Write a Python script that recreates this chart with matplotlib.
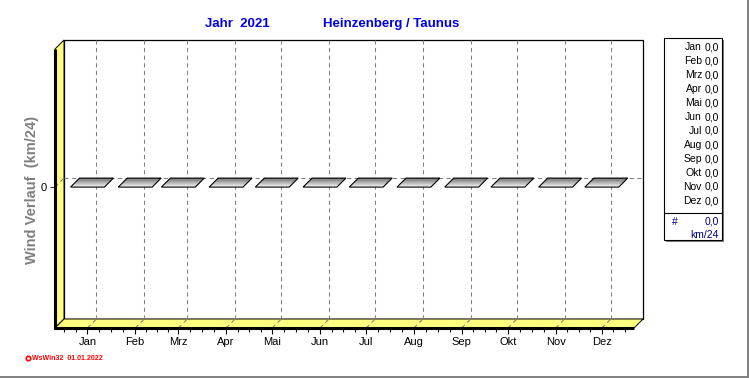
#!/usr/bin/env python3
import datetime
import numpy as np
import matplotlib
matplotlib.use('Agg')
import matplotlib.pyplot as plt
from matplotlib.patches import Polygon, Rectangle
from matplotlib.lines import Line2D
from matplotlib.colors import LinearSegmentedColormap

plt.rcParams['font.family'] = ['Liberation Sans', 'DejaVu Sans']
plt.rcParams['lines.scale_dashes'] = False

YEAR = 2021
MONTHS = ['Jan', 'Feb', 'Mrz', 'Apr', 'Mai', 'Jun', 'Jul', 'Aug', 'Sep', 'Okt', 'Nov', 'Dez']
WIND = [0.0, 0.0, 0.0, 0.0, 0.0, 0.0, 0.0, 0.0, 0.0, 0.0, 0.0, 0.0]
TOTAL = 0.0
YTICKS = [0]
TITLE_LEFT = 'Jahr  2021'
TITLE_RIGHT = 'Heinzenberg / Taunus'
YLABEL = 'Wind Verlauf  (km/24)'
UNIT = 'km/24'
FOOTER = 'WsWin32  01.01.2022'

# ticks sit on the 15th of each month (0-based day of year)
DAYS = [datetime.date(YEAR, m, 15).timetuple().tm_yday - 1 for m in range(1, 13)]


def de(v):
    return f'{v:.1f}'.replace('.', ',')


W, H = 750, 378
fig = plt.figure(figsize=(7.5, 3.78), dpi=100)


def fx(px):
    return px / W


def fy(py):
    return 1 - py / H


ax = fig.add_axes([fx(55), fy(328), (634 - 55) / W, (328 - 49) / H])
ax.set_xlim(-7.1, 368.9)
ax.set_ylim(-1.0, 0.98)
x0, x1 = ax.get_xlim()
y0, y1 = ax.get_ylim()
for s in ax.spines.values():
    s.set_visible(False)
ax.patch.set_visible(False)

# depth of the pseudo-3D box, converted to data units
DEPTH = 9
bb = ax.get_window_extent()
ddx = DEPTH * (x1 - x0) / bb.width
ddy = DEPTH * (y1 - y0) / bb.height

yellow = '#ffff80'
ax.add_patch(Rectangle((x0 + ddx, y0 + ddy), x1 - x0, y1 - y0, fc='white', ec='black',
                       lw=0.9, clip_on=False, zorder=1))
ax.add_patch(Polygon([(x0, y0), (x0, y1), (x0 + ddx, y1 + ddy), (x0 + ddx, y0 + ddy)],
                     closed=True, fc=yellow, ec='black', lw=0.7, clip_on=False, zorder=2))
ax.add_patch(Polygon([(x0, y0), (x1, y0), (x1 + ddx, y0 + ddy), (x0 + ddx, y0 + ddy)],
                     closed=True, fc=yellow, ec='black', lw=0.7, clip_on=False, zorder=2))
ax.plot([x0, x0, x1], [y1, y0, y0], color='black', lw=2.2, clip_on=False, zorder=8,
        solid_joinstyle='miter', solid_capstyle='butt')

grid = dict(color='#808080', lw=0.75, ls=(0, (3, 2.5)), clip_on=False, zorder=3)
for d in DAYS:
    ax.plot([d + ddx, d + ddx], [y0 + ddy, y1 + ddy], **grid)
    ax.plot([d, d + ddx], [y0, y0 + ddy], **grid)
for v in YTICKS:
    ax.plot([x0 + ddx, x1 + ddx], [v + ddy, v + ddy], **grid)
    ax.plot([x0, x0 + ddx], [v, v + ddy], **grid)

# flat bars (zero values) with a grey gradient top face
cmap = LinearSegmentedColormap.from_list('bar', ['#f6f6f6', '#6e6e6e'])
grad = np.linspace(0, 1, 32).reshape(-1, 1)
half = 11
for d, v in zip(DAYS, WIND):
    verts = [(d - half, v), (d + half, v), (d + half + ddx, v + ddy), (d - half + ddx, v + ddy)]
    poly = Polygon(verts, closed=True, fc='none', ec='black', lw=0.8, zorder=6)
    ax.add_patch(poly)
    im = ax.imshow(grad, extent=(d - half, d + half + ddx, v, v + ddy), cmap=cmap,
                   origin='lower', aspect='auto', interpolation='bilinear', zorder=5)
    im.set_clip_path(poly)
ax.set_xlim(x0, x1)
ax.set_ylim(y0, y1)
ax.set_aspect('auto')

# ticks
ax.set_xticks(DAYS)
ax.set_xticklabels(MONTHS)
minor = []
step = (DAYS[1] - DAYS[0]) / 4
minor += [DAYS[0] - step * k for k in (1, 2)]
for a, b in zip(DAYS[:-1], DAYS[1:]):
    minor += [a + (b - a) * k / 4 for k in (1, 2, 3)]
step = (DAYS[-1] - DAYS[-2]) / 4
minor += [DAYS[-1] + step * k for k in (1, 2, 3) if DAYS[-1] + step * k <= x1]
ax.set_xticks(minor, minor=True)
ax.tick_params(axis='x', which='major', length=4.3, width=0.8, pad=2, labelsize=8)
ax.tick_params(axis='x', which='minor', length=3.0, width=0.8)
ax.set_yticks(YTICKS)
ax.set_yticklabels([str(v) for v in YTICKS])
ax.tick_params(axis='y', length=3.6, width=0.8, pad=2, labelsize=8, color='#404040')

fig.text(fx(237), fy(24), TITLE_LEFT, ha='center', va='center', color='#0000e6',
         weight='bold', fontsize=9.5)
fig.text(fx(391), fy(24), TITLE_RIGHT, ha='center', va='center', color='#0000e6',
         weight='bold', fontsize=9.5)
fig.text(fx(32), fy(190), YLABEL, rotation=90, ha='center', va='center', color='#808080',
         weight='bold', fontsize=10.5)

# legend box on the right
fig.add_artist(Rectangle((fx(666), fy(242)), (722 - 664) / W, (240 - 38) / H,
                         transform=fig.transFigure, fc='#808080', ec='none', zorder=1))
fig.add_artist(Rectangle((fx(664), fy(240)), (722 - 664) / W, (240 - 38) / H,
                         transform=fig.transFigure, fc='white', ec='black', lw=0.8, zorder=2))
for i, (m, v) in enumerate(zip(MONTHS, WIND)):
    yy = fy(47 + 14 * i)
    fig.text(fx(702), yy, m, ha='right', va='center', fontsize=7.5, zorder=3)
    fig.text(fx(719), yy, de(v), ha='right', va='center', fontsize=7.5, zorder=3)
fig.add_artist(Line2D([fx(664), fx(722)], [fy(213), fy(213)], color='black', lw=0.8, zorder=3))
fig.text(fx(675), fy(222), '#', ha='center', va='center', fontsize=7.5, color='#000080', zorder=3)
fig.text(fx(719), fy(222), de(TOTAL), ha='right', va='center', fontsize=7.5, color='#000080', zorder=3)
fig.text(fx(719), fy(235), UNIT, ha='right', va='center', fontsize=7.5, color='#000080', zorder=3)

# footer
fig.add_artist(Line2D([fx(28)], [fy(358)], marker='o', markersize=3.2, mfc='white',
                      mec='#ff0000', mew=1.2, ls='none'))
fig.text(fx(32), fy(358), FOOTER, ha='left', va='center', fontsize=5, color='#ff0000',
         weight='bold')

# panel border
fig.add_artist(Line2D([fx(748), fx(748)], [fy(377), 1], color='#808080', lw=1.4))
fig.add_artist(Line2D([0, fx(748)], [fy(377), fy(377)], color='#808080', lw=1.4))

fig.savefig('out.png', dpi=100)
